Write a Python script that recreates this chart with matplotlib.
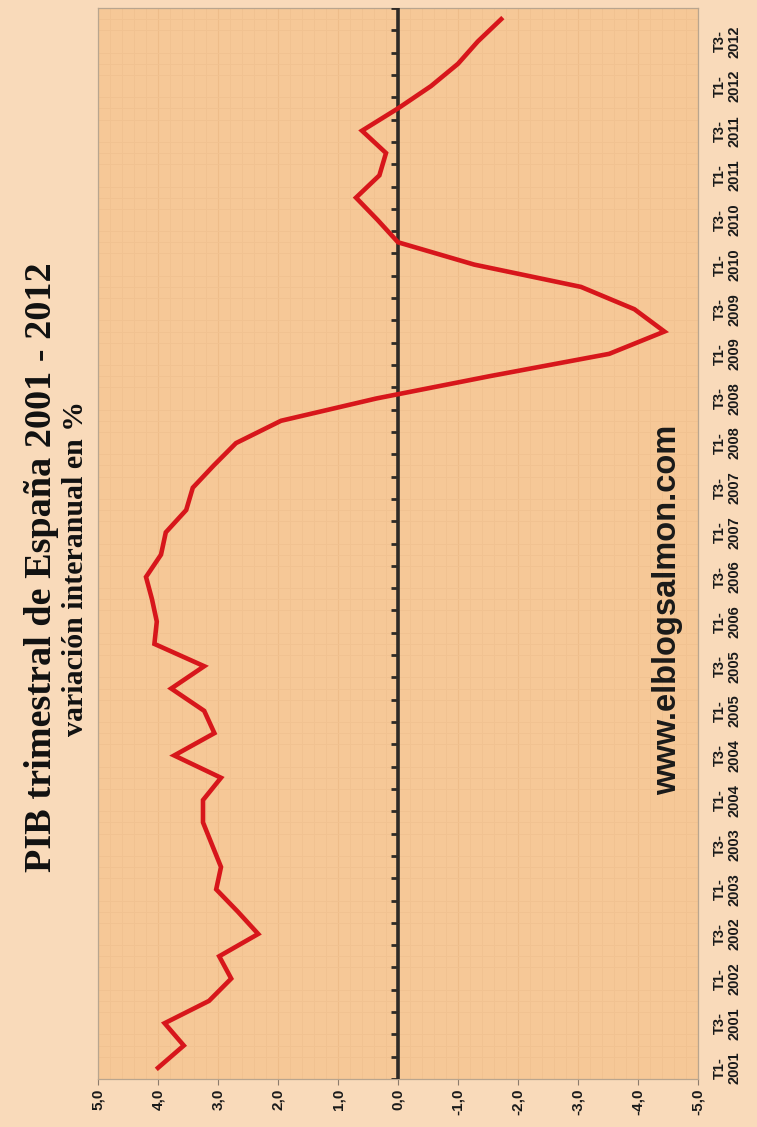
import numpy as np
import matplotlib
matplotlib.use("Agg")
import matplotlib.pyplot as plt
from matplotlib.ticker import MultipleLocator

# ---- data ----
quarter_labels = ["T1-\n2001", "T3-\n2001", "T1-\n2002", "T3-\n2002", "T1-\n2003", "T3-\n2003",
                  "T1-\n2004", "T3-\n2004", "T1-\n2005", "T3-\n2005", "T1-\n2006", "T3-\n2006",
                  "T1-\n2007", "T3-\n2007", "T1-\n2008", "T3-\n2008", "T1-\n2009", "T3-\n2009",
                  "T1-\n2010", "T3-\n2010", "T1-\n2011", "T3-\n2011", "T1-\n2012", "T3-\n2012"]
gdp_yoy = [4.0, 3.57, 3.89, 3.15, 2.78, 2.98, 2.33, 2.67,
           3.03, 2.95, 3.1, 3.25, 3.25, 2.95, 3.73, 3.06,
           3.23, 3.78, 3.23, 4.06, 4.02, 4.1, 4.2, 3.95,
           3.87, 3.53, 3.42, 3.07, 2.7, 1.95, 0.36, -1.53,
           -3.52, -4.44, -3.94, -3.05, -1.27, 0.0, 0.34, 0.7,
           0.31, 0.2, 0.6, 0.0, -0.55, -1.0, -1.33, -1.72]
value_ticks = [5, 4, 3, 2, 1, 0, -1, -2, -3, -4, -5]
value_tick_labels = ["5,0", "4,0", "3,0", "2,0", "1,0", "0,0", "-1,0", "-2,0", "-3,0", "-4,0", "-5,0"]

title = "PIB trimestral de España 2001 - 2012"
subtitle = "variación interanual en %"
watermark = "www.elblogsalmon.com"

# ---- figure ----
W, H, DPI = 757, 1127, 100
fig = plt.figure(figsize=(W / DPI, H / DPI), dpi=DPI)
fig.patch.set_facecolor("#F9DABA")

ax = fig.add_axes([98 / W, 1 - 1079 / H, 600 / W, 1071 / H])
ax.set_facecolor("#F6C897")

n = len(gdp_yoy)
idx = np.arange(n)

ax.set_xlim(5, -5)
ax.set_ylim(-0.5, n - 0.5)

# grid (graph-paper look)
ax.xaxis.set_minor_locator(MultipleLocator(0.2))
ax.yaxis.set_minor_locator(MultipleLocator(0.5))
ax.grid(which="minor", color="#F1C291", lw=0.7, alpha=0.9)
ax.grid(which="major", axis="x", color="#EEBC89", lw=0.8, alpha=0.9)
ax.set_axisbelow(True)

# zero line (category axis) with tick marks
ax.axvline(0, color="#2E2A26", lw=2.6, zorder=3)
ax.hlines(np.arange(n + 1) - 0.5, 0, 0.12, color="#2E2A26", lw=2.0, zorder=3)

# data line
ax.plot(gdp_yoy, idx, color="#D7161B", lw=3.3, solid_joinstyle="miter", zorder=4)

# value axis (bottom)
ax.set_xticks(value_ticks)
ax.set_xticklabels(value_tick_labels, rotation=90, fontsize=11, fontweight="bold",
                   family="Liberation Sans", color="#1a1a1a")
ax.tick_params(axis="x", which="major", length=4, width=0.8, color="#8C7B6B", pad=3)
ax.tick_params(axis="x", which="minor", length=0)

# category axis labels (right)
ax.yaxis.tick_right()
ax.set_yticks(idx[::2])
ax.set_yticklabels(quarter_labels, rotation=90, fontsize=10.5, fontweight="bold",
                   family="Liberation Sans", color="#1a1a1a", va="center", ha="left",
                   multialignment="center", linespacing=1.05)
ax.tick_params(axis="y", which="both", length=0, pad=11)

for s in ax.spines.values():
    s.set_color("#B9A58E")
    s.set_linewidth(0.9)

# titles
fig.text(42 / W, 1 - 567 / H, title, rotation=90, ha="center", va="center",
         family="Liberation Serif", fontweight="bold", fontsize=27.5, color="#111111")
fig.text(76 / W, 1 - 569 / H, subtitle, rotation=90, ha="center", va="center",
         family="Liberation Serif", fontweight="bold", fontsize=21.5, color="#111111")

# watermark
ax.text(0.95, 0.438, watermark, transform=ax.transAxes, rotation=90, ha="center", va="center",
        family="Liberation Sans", fontweight="bold", fontsize=23.5, color="#1a1a1a", zorder=5)

fig.savefig("out.png", dpi=DPI, facecolor=fig.get_facecolor())
